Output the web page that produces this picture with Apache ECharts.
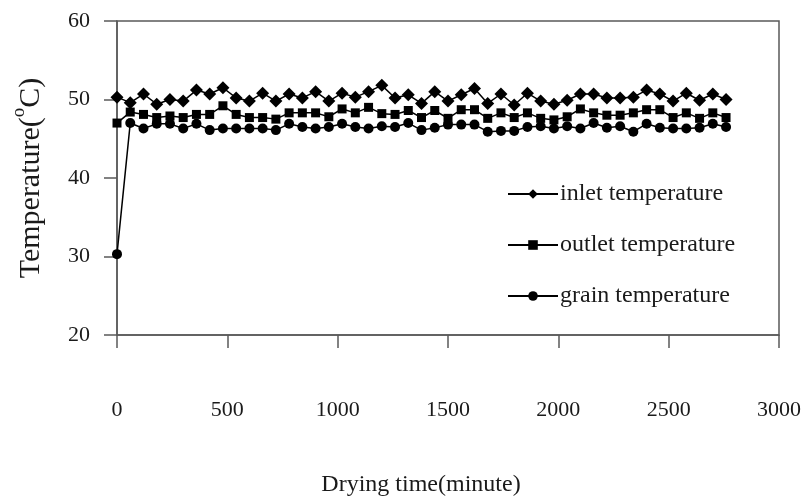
<!DOCTYPE html>
<html>
<head>
<meta charset="utf-8">
<script src="https://cdn.jsdelivr.net/npm/echarts@6/dist/echarts.min.js"></script>
<style>
html,body{margin:0;padding:0;background:#fff;}
#c{width:803px;height:499px;}
</style>
</head>
<body>
<div id="c"></div>
<script>
var times = [0,60,120,180,240,300,360,420,480,540,600,660,720,780,840,900,960,1020,1080,1140,1200,1260,1320,1380,1440,1500,1560,1620,1680,1740,1800,1860,1920,1980,2040,2100,2160,2220,2280,2340,2400,2460,2520,2580,2640,2700,2760];
var inlet = [50.3,49.6,50.7,49.4,50.0,49.8,51.2,50.7,51.5,50.2,49.8,50.8,49.8,50.7,50.2,51.0,49.8,50.8,50.3,51.0,51.8,50.2,50.6,49.5,51.0,49.8,50.6,51.4,49.5,50.7,49.3,50.8,49.8,49.4,49.9,50.7,50.7,50.2,50.2,50.3,51.2,50.7,49.8,50.8,49.9,50.7,50.0];
var outlet = [47.0,48.4,48.1,47.7,47.9,47.7,48.1,48.1,49.2,48.1,47.7,47.7,47.5,48.3,48.3,48.3,47.8,48.8,48.3,49.0,48.2,48.1,48.6,47.7,48.6,47.6,48.7,48.7,47.6,48.3,47.7,48.3,47.6,47.4,47.8,48.8,48.3,48.0,48.0,48.3,48.7,48.7,47.7,48.3,47.6,48.3,47.7];
var grain = [30.3,47.0,46.3,46.9,46.9,46.3,46.9,46.1,46.3,46.3,46.3,46.3,46.1,46.9,46.5,46.3,46.5,46.9,46.5,46.3,46.6,46.5,47.0,46.1,46.4,46.8,46.8,46.8,45.9,46.0,46.0,46.5,46.6,46.3,46.6,46.3,47.0,46.4,46.6,45.9,46.9,46.4,46.3,46.3,46.4,46.9,46.5];
var seriesNames = ['inlet temperature','outlet temperature','grain temperature'];
var xTicks = [0,500,1000,1500,2000,2500,3000];
var yTicks = [20,30,40,50,60];

function pairs(v){ return times.map(function(t,i){ return [t, v[i]]; }); }
var FONT = '"Liberation Serif","Times New Roman",serif';
var AX = '#5a5a5a';

var chart = echarts.init(document.getElementById('c'));
var mkSeries = function(name, data, sym, size){
  return {
    name: name, type: 'line', data: pairs(data), symbol: sym, symbolSize: size,
    clip: false, animation: false,
    lineStyle: {color: '#000', width: 1.5},
    itemStyle: {color: '#000'}
  };
};
chart.setOption({
  animation: false,
  backgroundColor: '#fff',
  grid: {left: 117, right: 24, top: 21, bottom: 164, show: true, borderColor: AX, borderWidth: 1.5,
    outerBoundsMode: 'none', containLabel: false},
  legend: {
    orient: 'vertical', left: 502, top: 177, itemWidth: 50, itemHeight: 12, itemGap: 27,
    data: seriesNames,
    textStyle: {fontFamily: FONT, fontSize: 24, color: '#1a1a1a', padding: [0, 0, 0, -3]}
  },
  xAxis: {
    type: 'value', min: xTicks[0], max: xTicks[xTicks.length-1], interval: 500,
    axisLine: {lineStyle: {color: AX, width: 1.5}},
    axisTick: {show: true, inside: false, length: 13, lineStyle: {color: AX, width: 1.5}},
    axisLabel: {margin: 64, fontFamily: FONT, fontSize: 22, color: '#1a1a1a',
      formatter: function(v){ return String(v); }},
    splitLine: {show: false},
    name: 'Drying time(minute)', nameLocation: 'middle', nameGap: 138,
    nameTextStyle: {fontFamily: FONT, fontSize: 24, color: '#1a1a1a', padding: [0, 54, 0, 0]}
  },
  yAxis: {
    type: 'value', min: yTicks[0], max: yTicks[yTicks.length-1], interval: 10,
    axisLine: {lineStyle: {color: AX, width: 1.5}},
    axisTick: {show: true, inside: false, length: 13, lineStyle: {color: AX, width: 1.5}},
    axisLabel: {margin: 27, fontFamily: FONT, fontSize: 22, color: '#1a1a1a'},
    splitLine: {show: false},
    name: '{a|Temperature(}{s|o}{a|C)}', nameLocation: 'middle', nameGap: 65, nameRotate: 90,
    nameTextStyle: {
      fontFamily: FONT, fontSize: 30, color: '#1a1a1a',
      rich: {
        a: {fontFamily: FONT, fontSize: 30, color: '#1a1a1a'},
        s: {fontFamily: FONT, fontSize: 19, color: '#1a1a1a', padding: [0, 0, 23, 0]}
      }
    }
  },
  series: [
    mkSeries(seriesNames[0], inlet, 'diamond', 13),
    mkSeries(seriesNames[1], outlet, 'rect', 9),
    mkSeries(seriesNames[2], grain, 'circle', 10)
  ]
});
</script>
</body>
</html>
